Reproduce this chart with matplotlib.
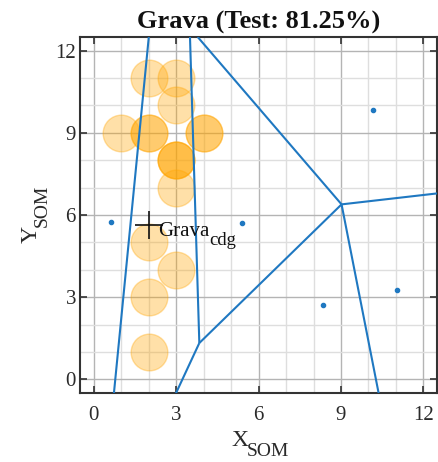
import numpy as np
import matplotlib
matplotlib.use("Agg")
import matplotlib.pyplot as plt

# ---------------------------------------------------------------
# data
# ---------------------------------------------------------------
TITLE = "Grava (Test: 81.25%)"

# test samples of class "Grava" (duplicates overlap -> darker)
test_x = [2, 3, 3, 1, 2, 2, 4, 4, 3, 3, 3, 3, 2, 3, 2, 2]
test_y = [11, 11, 10, 9, 9, 9, 9, 9, 8, 8, 8, 7, 5, 4, 3, 1]

# neuron / cell seeds
seed_x = [0.62, 5.38, 10.17, 8.33, 11.04]
seed_y = [5.76, 5.72, 9.84, 2.73, 3.26]

# centre of gravity of the class
cdg_x, cdg_y = 2.01, 5.63
cdg_name, cdg_sub = "Grava", "cdg"

# voronoi edges: (x0, y0, x1, y1)
edge_x0 = [0.73, 3.50, 3.84, 3.84, 3.78, 9.02, 9.02]
edge_y0 = [-0.5, 12.5, 1.33, 1.33, 12.5, 6.39, 6.39]
edge_x1 = [2.00, 3.84, 2.99, 9.02, 9.02, 12.5, 10.37]
edge_y1 = [12.5, 1.33, -0.5, 6.39, 6.39, 6.79, -0.5]

ticks = [0, 3, 6, 9, 12]

# ---------------------------------------------------------------
plt.rcParams["font.family"] = ["Liberation Serif", "DejaVu Serif"]

W, H = 438, 462
fig = plt.figure(figsize=(W / 100, H / 100), dpi=100)
ax = fig.add_axes([0.183, 0.149, 0.815, 0.771])

ax.scatter(test_x, test_y, s=700, color="#FFA500", alpha=0.34,
           linewidths=1.0, zorder=2)

for x0, y0, x1, y1 in zip(edge_x0, edge_y0, edge_x1, edge_y1):
    ax.plot([x0, x1], [y0, y1], color="#1f78c1", lw=1.5, zorder=3,
            solid_capstyle="butt")

ax.plot(seed_x, seed_y, "o", color="#1f78c1", ms=3, zorder=4)

# centre of gravity marker + label (subscript drawn as its own text)
ax.plot(cdg_x, cdg_y, "+", color="#111111", ms=20, mew=1.2, zorder=5)
ax.annotate(cdg_name, xy=(cdg_x, cdg_y), xytext=(6.5, -7.9),
            textcoords="offset points", fontsize=15, color="#111111",
            ha="left", va="baseline", zorder=6)
ax.annotate(cdg_sub, xy=(cdg_x, cdg_y), xytext=(43.5, -14.4),
            textcoords="offset points", fontsize=13.5, color="#111111",
            ha="left", va="baseline", zorder=6)

ax.set_xlim(-0.5, 12.5)
ax.set_ylim(-0.5, 12.5)
ax.set_xticks(ticks)
ax.set_yticks(ticks)
ax.set_xticks(np.arange(0, 13), minor=True)
ax.set_yticks(np.arange(0, 13), minor=True)
ax.grid(True, which="major", color="#b4b4b4", lw=1.0, zorder=0)
ax.grid(True, which="minor", color="#dedede", lw=1.0, zorder=0)
ax.set_axisbelow(True)

ax.tick_params(which="major", direction="in", top=True, right=True,
               length=5, width=1.2, color="#333333",
               labelsize=15, labelcolor="#2a2a2a")
ax.tick_params(which="minor", length=0)
ax.tick_params(axis="x", pad=9)
ax.tick_params(axis="y", pad=3)
for s in ax.spines.values():
    s.set_color("#333333")
    s.set_linewidth(1.5)

# axis labels: main letter + large subscript, placed in figure pixels
lab = dict(color="#2a2a2a", rotation_mode="anchor", ha="left",
           va="baseline")
fig.text(231 / W, 1 - 446 / H, "X", fontsize=17, **lab)
fig.text(247 / W, 1 - 456 / H, "SOM", fontsize=14, **lab)
fig.text(37 / W, 1 - 243 / H, "Y", fontsize=17, rotation=90, **lab)
fig.text(47 / W, 1 - 227 / H, "SOM", fontsize=14, rotation=90, **lab)

ax.set_title(TITLE, fontsize=19, fontweight="bold", color="#111111", pad=6)

fig.savefig("out.png", dpi=100)
